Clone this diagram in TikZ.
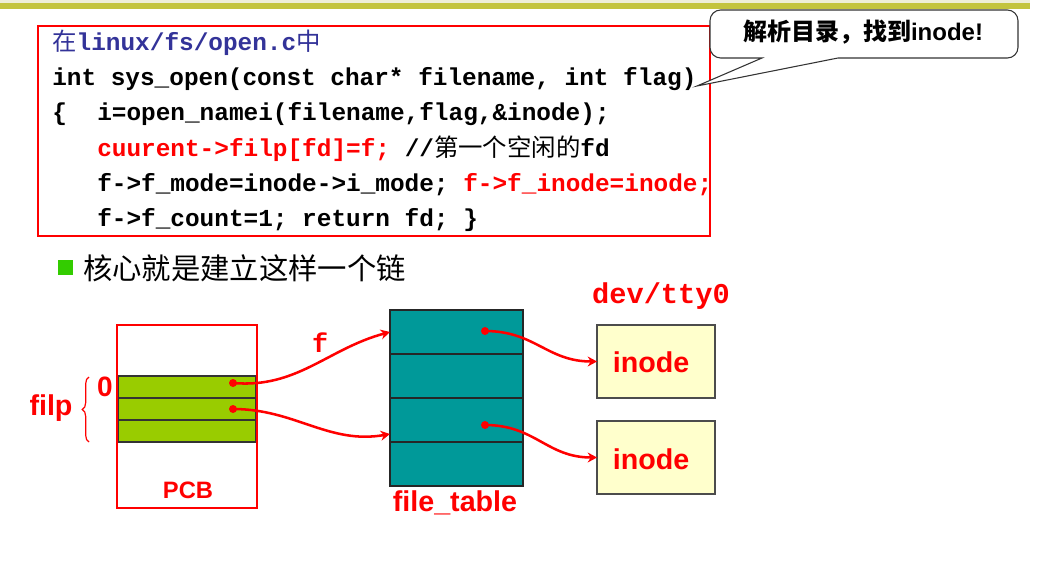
\documentclass[tikz,border=0pt]{standalone}
\usepackage{fontspec}
\setmainfont{Liberation Sans}
\setmonofont{Liberation Mono}
\newfontfamily\cjk{Noto Sans CJK SC}
\usetikzlibrary{arrows.meta,decorations.pathreplacing}
\definecolor{barolive}{HTML}{C3C43F}
\definecolor{barlight}{HTML}{EEEED8}
\definecolor{codeblue}{HTML}{333399}
\definecolor{pcbgreen}{HTML}{99CC00}
\definecolor{bulgreen}{HTML}{33CC00}
\definecolor{teal}{HTML}{009999}
\definecolor{inodeyellow}{HTML}{FFFFCC}
\def\pu{0.75pt}
\tikzset{
  box/.style={inner sep=0pt, outer sep=0pt},
  code/.style={anchor=base west, inner sep=0pt, font=\fontsize{18.3}{22}\selectfont\ttfamily\bfseries},
  redlabel/.style={text=red, inner sep=0pt, font=\fontsize{21.5}{24}\selectfont\bfseries},
  redmono/.style={text=red, inner sep=0pt, font=\fontsize{21.5}{24}\selectfont\ttfamily\bfseries},
  pcbrow/.style={box, draw=black!80, line width=0.8pt, fill=pcbgreen, minimum width=137*\pu, minimum height=22*\pu},
  tabrow/.style={box, draw=black!85, line width=0.8pt, fill=teal, minimum width=133*\pu, minimum height=44*\pu},
  inodebox/.style={box, draw=black!70, line width=0.8pt, fill=inodeyellow, minimum width=118*\pu, minimum height=73*\pu},
  dot/.style={circle, fill=red, inner sep=0pt, minimum size=8*\pu},
  link/.style={red, line width=1.9pt, -{Stealth[length=7pt,width=7.5pt]}},
}
\begin{document}
\begin{tikzpicture}[x=0.75pt,y=-0.75pt]
\useasboundingbox[fill=white] (0,0) rectangle (1045,577);
% top bar
\fill[barlight] (0,0) rectangle (1030,3.5);
\fill[barolive] (0,3.5) rectangle (1030,9.5);
% code box
\node[box, draw=red, line width=1.1pt, minimum width=672*\pu, minimum height=210*\pu] (codebox) at (374,131) {};
\node[code, text=codeblue] (l1) at (52,51) {{\cjk\mdseries 在}linux/fs/open.c{\cjk\mdseries 中}};
\node[code] (l2) at (52,86) {int sys\_open(const char* filename, int flag)};
\node[code] (l3a) at (52,121) {\{};
\node[code] (l3) at (97,121) {i=open\_namei(filename,flag,\&inode);};
\node[code] (l4) at (97,157) {\textcolor{red}{cuurent->filp[fd]=f;}~//{\cjk\mdseries 第一个空闲的}fd};
\node[code] (l5) at (97,192) {f->f\_mode=inode->i\_mode;~\textcolor{red}{f->f\_inode=inode;}};
\node[code] (l6) at (97,227) {f->f\_count=1;~return fd;~\}};
% callout
\coordinate (tip) at (697,86);
\draw[black!80, line width=0.8pt, fill=white] (762,58) [rounded corners=8] -- (710,58) -- (710,10) -- (1018,10) -- (1018,58) [sharp corners] -- (838,58) -- (tip) -- cycle;
\node[inner sep=0pt, font=\fontsize{18}{20}\selectfont\bfseries] (callout) at (863,32) {{\cjk 解析目录，找到}inode!};
% bullet
\node[box, fill=bulgreen, minimum size=15*\pu] (bullet) at (65.5,267.5) {};
\node[anchor=west, inner sep=0pt, font=\fontsize{22}{24}\selectfont\cjk] (bultext) at (83,268) {核心就是建立这样一个链};
% PCB
\node[pcbrow] (p0) at (187,387) {};
\node[pcbrow] (p1) at (187,409) {};
\node[pcbrow] (p2) at (187,431) {};
\node[box, draw=red, line width=2.2pt, minimum width=140*\pu, minimum height=183*\pu] (pcb) at (187,416.5) {};
\node[redlabel, font=\fontsize{17.8}{20}\selectfont\bfseries] (pcblabel) at (188,490) {PCB};
\node[text=red, inner sep=0pt, font=\fontsize{21}{24}\selectfont\bfseries] (zero) at (105,387) {0};
\draw[red, line width=0.9pt, decorate, decoration={brace, amplitude=5pt}] (89,442) -- (89,377);
\node[redlabel] (filp) at (51,408) {filp};
% file table
\node[tabrow] (t0) at (456.5,332) {};
\node[tabrow] (t1) at (456.5,376) {};
\node[tabrow] (t2) at (456.5,420) {};
\node[tabrow] (t3) at (456.5,464) {};
\node[redlabel] (ftlabel) at (455,503) {file\_table};
\node[redmono, font=\fontsize{20}{22}\selectfont\ttfamily\bfseries] (flabel) at (320,343) {f};
% inodes
\node[inodebox] (i1) at (656,361.5) {};
\node[inodebox] (i2) at (656,457.5) {};
\node[redlabel] at (651,362) (i1t) {inode};
\node[redlabel] at (651,459) (i2t) {inode};
\node[redmono] (dev) at (661,296) {dev/tty0};
% dots
\node[dot] (d0) at (233,383) {};
\node[dot] (d1) at (233,409) {};
\node[dot] (d2) at (485,331) {};
\node[dot] (d3) at (485,425) {};
% links
\draw[link] (d0.center) to[out=-5,in=195] (t0.west);
\draw[link] (d1.center) to[out=0,in=190] ([yshift=-14*\pu]t2.west);
\draw[link] (d2.center) to[out=0,in=180,looseness=1.1] (i1.west);
\draw[link] (d3.center) to[out=0,in=180,looseness=1.1] (i2.west);
\end{tikzpicture}
\end{document}
